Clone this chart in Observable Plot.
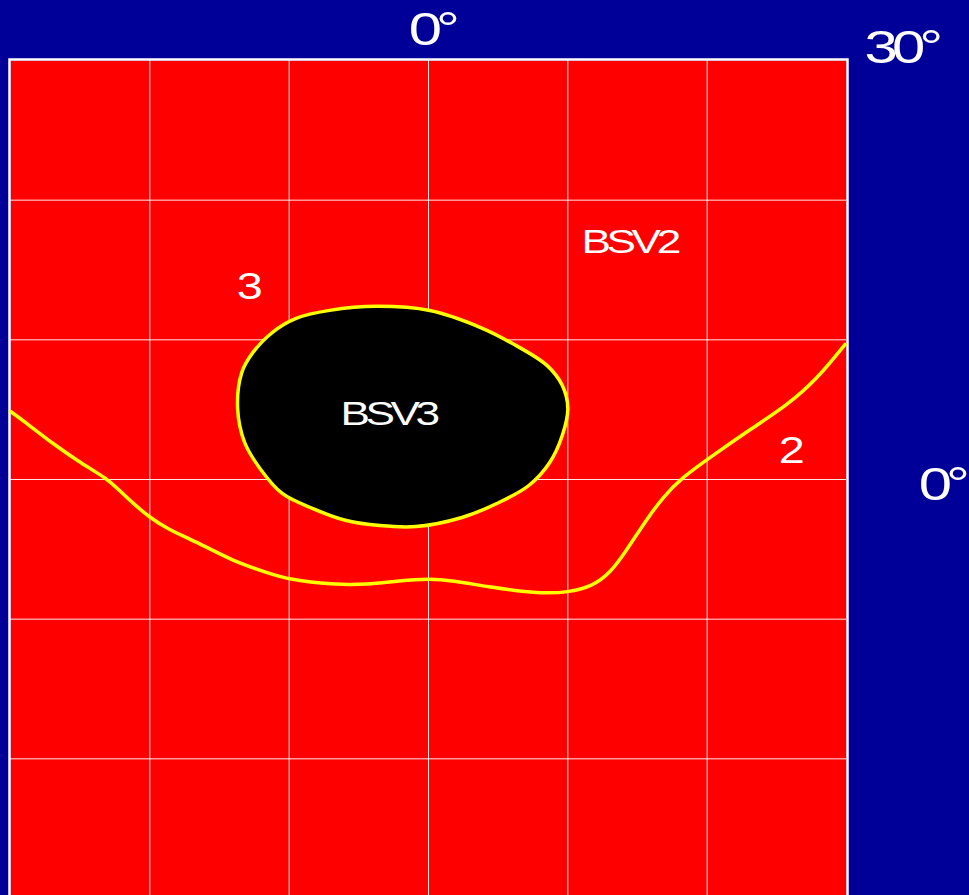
<!DOCTYPE html>
<html>
<head>
<meta charset="utf-8">
<script src="https://cdn.jsdelivr.net/npm/d3@7"></script>
<script src="https://cdn.jsdelivr.net/npm/@observablehq/plot@0.6"></script>
<style>
  html, body { margin: 0; padding: 0; background: #000099; }
  #chart { width: 969px; height: 895px; overflow: hidden; }
</style>
</head>
<body>
<div id="chart"></div>
<script>
// Grid (degrees of visual field)
const gridX = [-20, -10, 0, 10, 20];
const gridY = [-20, -10, 0, 10, 20];

// Isopter line (x in degrees, y in degrees)
const isoX = [-30.0, -29.1, -26.8, -24.9, -23.1, -22.4, -21.2, -20.0, -18.8, -16.4, -14.1, -11.6, -10.0, -6.9, -4.4, -2.1, 0.1, 1.7, 4.2, 7.7, 10.1, 11.8, 13.0, 14.2, 15.6, 16.8, 18.2, 20.1, 23.2, 25.7, 27.8, 29.9];
const isoY = [4.87, 4.23, 2.44, 1.15, 0.07, -0.57, -1.72, -2.72, -3.51, -4.59, -5.81, -6.67, -7.17, -7.53, -7.53, -7.24, -7.10, -7.24, -7.67, -8.17, -8.10, -7.60, -6.74, -5.09, -2.94, -1.29, 0.14, 1.51, 3.66, 5.30, 7.10, 9.68];

// Blind spot outline (BSV3 region)
const spotX = [-3.7, 0.1, 3.7, 6.0, 8.5, 9.6, 10.0, 9.6, 8.7, 7.2, 4.9, 2.4, -0.9, -3.5, -5.9, -8.3, -10.5, -12.1, -13.2, -13.7, -13.4, -12.6, -11.2, -9.5, -7.1];
const spotY = [12.4, 12.1, 10.9, 9.75, 8.17, 6.74, 5.09, 3.15, 1.22, -0.43, -1.72, -2.72, -3.37, -3.30, -2.94, -2.08, -1.00, 0.79, 2.65, 5.09, 7.67, 9.10, 10.54, 11.54, 12.11];

// Labels
const labelText = ["0°", "30°", "0°", "BSV2", "3", "BSV3", "2"];
const labelX = [0.2, 33.9, 36.8, 14.4, -13.0, -2.9, 25.9];
const labelY = [31.1, 29.8, -1.5, 16.2, 12.9, 3.9, 1.2];
const labelSize = [46, 46, 46, 34, 36, 34, 36];

const iso = isoX.map((x, i) => ({x, y: isoY[i]}));
const spot = spotX.map((x, i) => ({x, y: spotY[i]}));
const labels = labelText.map((t, i) => ({t, x: labelX[i], y: labelY[i], s: labelSize[i]}));

const chart = Plot.plot({
  width: 969,
  height: 895,
  marginLeft: 10,
  marginRight: 123,
  marginTop: 60,
  marginBottom: -3,
  style: {background: "#000099", fontFamily: "'Liberation Sans', Arial, sans-serif", overflow: "visible"},
  x: {domain: [-30, 30], axis: null},
  y: {domain: [-30, 30], axis: null},
  marks: [
    Plot.frame({fill: "#ff0000", stroke: null}),
    Plot.ruleX(gridX, {stroke: "white", strokeWidth: 1, strokeOpacity: 0.9}),
    Plot.ruleY(gridY, {stroke: "white", strokeWidth: 1, strokeOpacity: 0.9}),
    Plot.frame({stroke: "white", strokeWidth: 2.5, inset: -1}),
    Plot.line(iso, {x: "x", y: "y", curve: "basis", stroke: "#ffff00", strokeWidth: 3.5}),
    Plot.line(spot, {x: "x", y: "y", curve: "catmull-rom-closed", fill: "black", stroke: "#ffff00", strokeWidth: 3.5}),
    ...labels.map(d => Plot.text([d], {x: "x", y: "y", text: "t", fill: "white", fontSize: d.s, textAnchor: "middle", lineAnchor: "bottom"}))
  ]
});

document.getElementById("chart").appendChild(chart);

// Horizontally stretch label glyphs and tighten spacing like the reference typeface
d3.select(chart).selectAll("text").each(function() {
  const el = this;
  el.setAttribute("letter-spacing", "-0.1em");
  const t = el.getAttribute("transform") || "";
  const x = +(el.getAttribute("x") || 0), y = +(el.getAttribute("y") || 0);
  el.setAttribute("transform", `${t} translate(${x},${y}) scale(1.3,1) translate(${-x},${-y})`);
});
</script>
</body>
</html>
